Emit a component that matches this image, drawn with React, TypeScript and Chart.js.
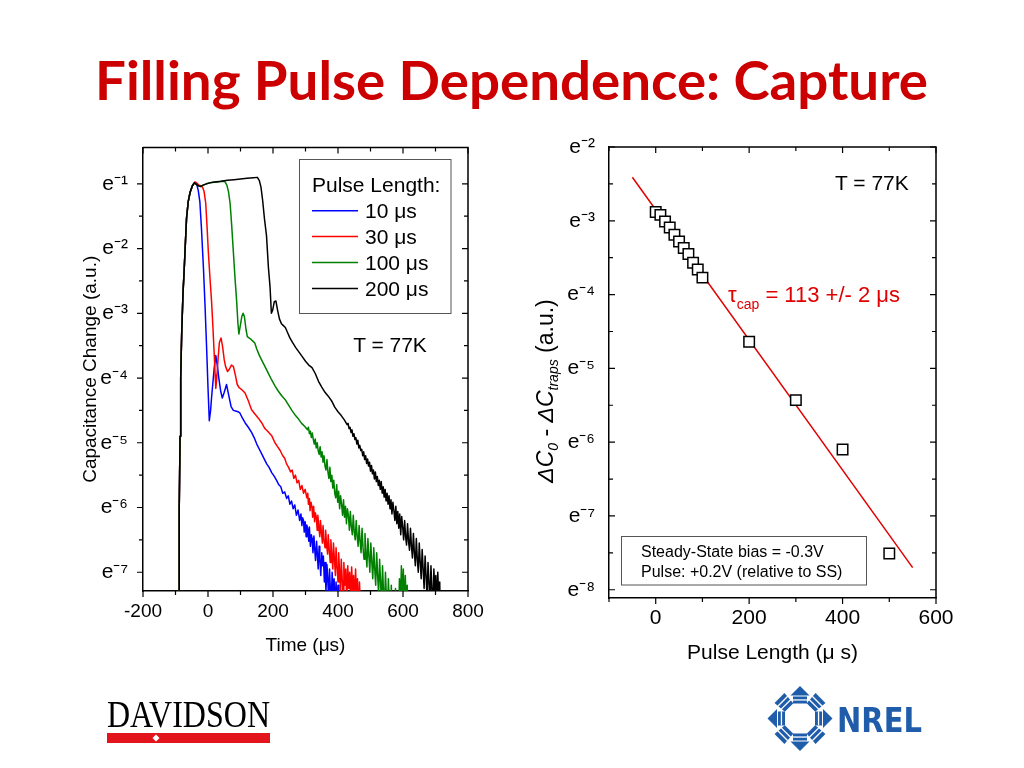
import React, { useEffect, useRef } from 'react';
import { Chart, registerables } from 'chart.js';

Chart.register(...registerables);

const SANS = '"Liberation Sans", Arial, Helvetica, sans-serif';

// ---------- left panel: capacitance transients, rows are [time (us), ln(dC)] ----------
const riseShared = [
  [-89, -9], [-89, -8], [-88, -6], [-86, -4.9], [-84, -4.0], [-81, -3.32], [-77, -2.7],
  [-73, -2.3], [-69, -1.85], [-66, -1.53], [-61, -1.28], [-55, -1.13], [-48, -1.03], [-42, -0.985],
];

const trace10 = [
  [-38, -0.99], [-35, -1.0], [-30, -1.1], [-25, -1.28], [-20, -1.7], [-14, -2.3], [-9, -2.9],
  [-4, -3.57], [0, -4.15], [4, -4.66], [8, -4.5], [11, -4.3], [14, -4.13], [19, -3.85], [24, -3.65],
  [29, -3.82], [34, -4.03], [39, -4.2], [44, -4.31], [50, -4.22], [57, -4.1], [63, -4.25], [71, -4.44],
  [78, -4.5], [85, -4.51], [92, -4.52], [98, -4.54], [106, -4.62], [114, -4.69], [124, -4.76],
  [134, -4.84], [142, -4.92], [150, -5.02], [158, -5.1], [166, -5.18], [174, -5.26], [181, -5.33],
  [188, -5.38], [196, -5.46], [204, -5.52], [211, -5.58], [218, -5.65], [224, -5.68], [230, -5.78],
  [236, -5.76], [242, -5.86], [247, -5.82], [252, -5.95], [257, -5.9], [262, -6.02], [267, -5.96],
  [272, -6.12], [277, -6.04], [282, -6.2], [286, -6.1], [289, -6.28], [291, -6.16], [294, -6.2],
  [296, -6.38], [299, -6.22], [302, -6.45], [304, -6.27], [307, -6.33], [310, -6.52], [312, -6.3],
  [315, -6.6], [318, -6.42], [320, -6.48], [323, -6.7], [326, -6.44], [328, -6.62], [331, -6.82],
  [334, -6.52], [336, -6.68], [339, -6.95], [342, -6.6], [344, -6.78], [347, -7.05], [350, -6.7],
  [352, -6.9], [355, -6.75], [358, -7.15], [360, -6.85], [363, -7.3], [366, -6.88], [368, -7.05],
  [371, -7.4], [374, -6.95], [376, -7.2], [379, -7.5], [382, -7.0], [385, -7.35], [388, -7.1],
  [391, -7.6], [394, -7.15], [397, -7.45], [400, -7.2], [403, -8],
];

const trace30 = [
  [-40, -0.97], [-34, -0.99], [-28, -1.02], [-22, -1.03], [-17, -1.05], [-12, -1.12], [-7, -1.3],
  [-3, -1.65], [1, -2.05], [6, -2.45], [11, -2.82], [15, -3.2], [19, -3.62], [22, -3.95], [24, -4.16],
  [27, -4.0], [31, -3.7], [35, -3.45], [40, -3.38], [45, -3.52], [50, -3.72], [54, -3.82], [60, -3.9],
  [66, -3.86], [72, -3.8], [78, -3.82], [84, -3.95], [90, -4.1], [96, -4.15], [104, -4.18],
  [114, -4.23], [124, -4.35], [134, -4.49], [145, -4.56], [155, -4.62], [165, -4.69], [175, -4.78],
  [185, -4.83], [196, -4.89], [206, -5.0], [214, -5.06], [222, -5.12], [230, -5.2], [236, -5.24],
  [242, -5.33], [248, -5.38], [254, -5.45], [259, -5.42], [264, -5.55], [269, -5.5], [274, -5.62],
  [279, -5.58], [284, -5.72], [289, -5.66], [294, -5.78], [299, -5.72], [304, -5.85], [307, -5.78],
  [309, -5.95], [312, -5.86], [314, -6.05], [317, -5.92], [320, -6.0], [322, -6.15], [325, -5.98],
  [328, -6.22], [330, -6.08], [333, -6.14], [336, -6.35], [338, -6.12], [341, -6.3], [344, -6.45],
  [346, -6.2], [349, -6.38], [352, -6.55], [354, -6.28], [357, -6.5], [360, -6.62], [362, -6.35],
  [365, -6.58], [368, -6.72], [370, -6.42], [373, -6.65], [376, -6.85], [378, -6.5], [381, -6.75],
  [384, -6.95], [386, -6.55], [389, -6.8], [392, -7.05], [394, -6.62], [397, -6.9], [400, -7.15],
  [402, -6.7], [405, -7.0], [408, -7.3], [410, -6.8], [413, -7.1], [416, -7.4], [418, -6.85],
  [421, -7.2], [424, -6.95], [427, -7.45], [430, -6.9], [433, -7.25], [436, -7.0], [439, -7.5],
  [442, -6.92], [445, -7.3], [448, -7.05], [451, -7.55], [454, -6.95], [457, -7.35], [460, -7.1],
  [463, -7.7], [466, -7.15], [469, -7.5], [472, -8],
];

const trace100 = [
  [-38, -1.0], [-30, -1.03], [-22, -1.04], [-15, -1.02], [-5, -1.0], [10, -0.98], [30, -0.97],
  [45, -0.96], [52, -0.965], [58, -1.02], [63, -1.12], [68, -1.3], [73, -1.65], [78, -2.05],
  [83, -2.45], [88, -2.8], [92, -3.15], [95, -3.32], [99, -3.2], [104, -3.05], [108, -3.0],
  [112, -3.05], [117, -3.25], [121, -3.36], [126, -3.38], [132, -3.4], [138, -3.43], [144, -3.46],
  [150, -3.55], [158, -3.65], [166, -3.73], [175, -3.82], [185, -3.92], [196, -4.03], [206, -4.12],
  [216, -4.2], [226, -4.27], [237, -4.33], [248, -4.42], [258, -4.5], [268, -4.57], [278, -4.63],
  [288, -4.7], [298, -4.75], [306, -4.8], [309, -4.76], [312, -4.86], [315, -4.82], [318, -4.92],
  [321, -4.85], [324, -4.95], [327, -5.02], [330, -4.94], [333, -5.08], [336, -5.0], [339, -5.12],
  [342, -5.18], [345, -5.06], [348, -5.22], [351, -5.14], [354, -5.3], [357, -5.2], [360, -5.36],
  [363, -5.42], [366, -5.26], [369, -5.45], [372, -5.55], [375, -5.38], [378, -5.6], [381, -5.5],
  [384, -5.7], [387, -5.58], [390, -5.78], [393, -5.85], [396, -5.65], [399, -5.92], [402, -5.75],
  [405, -6.02], [408, -5.82], [411, -5.95], [414, -6.12], [417, -5.88], [420, -6.15], [423, -5.98],
  [426, -6.25], [429, -6.02], [432, -6.12], [435, -6.35], [438, -6.06], [441, -6.3], [444, -6.42],
  [447, -6.12], [450, -6.38], [453, -6.5], [456, -6.2], [459, -6.45], [462, -6.6], [465, -6.28],
  [468, -6.52], [471, -6.7], [474, -6.32], [477, -6.62], [480, -6.8], [483, -6.4], [486, -6.7],
  [489, -6.92], [492, -6.48], [495, -6.75], [498, -7.0], [501, -6.55], [504, -6.85], [507, -7.1],
  [510, -6.62], [513, -6.95], [516, -7.2], [519, -6.7], [522, -7.05], [525, -7.35], [528, -6.8],
  [531, -7.15], [534, -7.5], [537, -6.9], [540, -7.3], [543, -7.6], [546, -7.0], [549, -7.4],
  [552, -7.75], [555, -7.1], [558, -7.5], [561, -7.9], [564, -7.2], [567, -7.6], [570, -7.3],
  [574, -7.85], [577, -7.25], [580, -7.6], [583, -7.35], [586, -7.8], [589, -7.1], [592, -7.5],
  [595, -6.9], [598, -7.4], [601, -6.95], [604, -7.6], [607, -7.05], [610, -7.45], [613, -7.2],
  [616, -7.8], [619, -7.3], [622, -8],
];

const trace200 = [
  [-38, -1.0], [-30, -1.03], [-22, -1.04], [-15, -1.02], [-5, -1.0], [5, -0.985], [20, -0.97],
  [40, -0.96], [60, -0.945], [80, -0.935], [100, -0.925], [120, -0.915], [140, -0.905], [152, -0.9],
  [158, -0.95], [163, -1.05], [168, -1.25], [174, -1.55], [180, -1.8], [186, -2.3], [191, -2.6],
  [195, -3.0], [199, -2.95], [204, -2.82], [209, -2.81], [214, -2.95], [220, -3.09], [226, -3.16],
  [232, -3.19], [238, -3.22], [245, -3.3], [252, -3.38], [260, -3.45], [270, -3.53], [280, -3.6],
  [290, -3.67], [300, -3.74], [310, -3.8], [320, -3.84], [330, -3.93], [340, -4.05], [350, -4.14],
  [360, -4.22], [370, -4.28], [380, -4.35], [390, -4.45], [400, -4.52], [410, -4.58], [420, -4.65],
  [428, -4.72], [431, -4.7], [434, -4.78], [437, -4.76], [440, -4.84], [443, -4.8], [446, -4.9],
  [449, -4.86], [452, -4.95], [455, -4.92], [458, -5.02], [461, -4.96], [464, -5.08], [467, -5.04],
  [470, -5.12], [473, -5.1], [476, -5.2], [479, -5.14], [482, -5.26], [485, -5.2], [488, -5.32],
  [491, -5.25], [494, -5.36], [497, -5.3], [500, -5.44], [503, -5.35], [506, -5.48], [509, -5.42],
  [512, -5.56], [515, -5.45], [518, -5.6], [521, -5.52], [524, -5.66], [527, -5.58], [530, -5.72],
  [533, -5.6], [536, -5.78], [539, -5.68], [542, -5.84], [545, -5.72], [548, -5.9], [551, -5.78],
  [554, -5.95], [557, -5.82], [560, -6.02], [563, -5.88], [566, -6.1], [569, -5.92], [572, -6.05],
  [575, -6.2], [578, -5.98], [581, -6.25], [584, -6.06], [587, -6.32], [590, -6.1], [593, -6.42],
  [596, -6.14], [599, -6.3], [602, -6.5], [605, -6.2], [608, -6.45], [611, -6.58], [614, -6.25],
  [617, -6.52], [620, -6.66], [623, -6.32], [626, -6.6], [629, -6.78], [632, -6.4], [635, -6.7],
  [638, -6.9], [641, -6.48], [644, -6.8], [647, -7.0], [650, -6.55], [653, -6.85], [656, -7.1],
  [659, -6.65], [662, -6.95], [665, -7.25], [668, -6.75], [671, -7.05], [674, -7.4], [677, -6.85],
  [680, -7.15], [683, -7.5], [686, -6.9], [689, -7.25], [692, -7.6], [695, -6.95], [698, -7.3],
  [701, -7.05], [704, -7.55], [707, -7.0], [710, -7.4], [713, -7.15], [716, -8],
];

const traceLabels = ['10 μs', '30 μs', '100 μs', '200 μs'];
const traceColors = ['#0000ff', '#ff0000', '#008000', '#000000'];
const traceOrder = [3, 2, 1, 0]; // black drawn on top

const timeMajor = [-200, 0, 200, 400, 600, 800];
const timeMinor = [-100, 100, 300, 500, 700];
const leftLnRange = [-7.29, -0.44];
const leftExpMajor = [-1, -2, -3, -4, -5, -6, -7];
const leftExpMinor = [-1.5, -2.5, -3.5, -4.5, -5.5, -6.5];

// ---------- right panel: capture vs pulse length ----------
const pulseLengths = [0, 10, 20, 30, 40, 50, 60, 70, 80, 90, 100, 200, 300, 400, 500];
const capLn = [-2.88, -2.92, -3.01, -3.09, -3.19, -3.28, -3.37, -3.45, -3.57, -3.66, -3.77, -4.64, -5.43, -6.1, -7.51];
const fitX = [-50, 550];
const fitLn = [-2.41, -7.7];
const pulseMajor = [0, 200, 400, 600];
const pulseMinor = [-100, 100, 300, 500];
const rightLnRange = [-8, -2];
const rightExpMajor = [-2, -3, -4, -5, -6, -7, -8];
const rightExpMinor = [-2.5, -3.5, -4.5, -5.5, -6.5, -7.5];

const SUP: Record<string, string> = {
  '-': '⁻', '0': '⁰', '1': '¹', '2': '²', '3': '³', '4': '⁴', '5': '⁵', '6': '⁶', '7': '⁷', '8': '⁸', '9': '⁹',
};
const expLabel = (n: number) => 'e' + String(n).split('').map((c) => SUP[c] ?? c).join('');

const toPoints = (rows: number[][]) => rows.map(([x, ln]) => ({ x, y: Math.exp(ln) }));

const tickSetter = (major: number[], minor: number[], log: boolean) => (scale: any) => {
  const v = (n: number) => (log ? Math.exp(n) : n);
  scale.ticks = [
    ...major.map((n) => ({ value: v(n), major: true })),
    ...minor.map((n) => ({ value: v(n), major: false })),
  ].sort((a, b) => a.value - b.value);
};

// frame on top/right + inward/outward tick marks
const frameTicks = {
  id: 'frameTicks',
  afterDraw(chart: any, _args: any, opts: any) {
    const { ctx, chartArea: a, scales } = chart;
    ctx.save();
    ctx.strokeStyle = '#000';
    ctx.lineWidth = 1.5;
    ctx.beginPath();
    ctx.moveTo(a.left, a.top);
    ctx.lineTo(a.right, a.top);
    ctx.lineTo(a.right, a.bottom);
    ctx.stroke();
    ctx.lineWidth = 1.2;
    ctx.beginPath();
    for (const t of scales.x.ticks) {
      const px = scales.x.getPixelForValue(t.value);
      const len = t.major ? 6 : 4;
      ctx.moveTo(px, a.bottom);
      ctx.lineTo(px, a.bottom + len);
      ctx.moveTo(px, a.top);
      ctx.lineTo(px, a.top + len);
    }
    for (const t of scales.y.ticks) {
      const py = scales.y.getPixelForValue(t.value);
      const len = t.major ? 6 : 4;
      ctx.moveTo(a.left, py);
      ctx.lineTo(a.left + (opts.leftOut ? -len : len), py);
      ctx.moveTo(a.right, py);
      ctx.lineTo(a.right - len, py);
    }
    ctx.stroke();
    ctx.restore();
  },
};

const baseScales = (o: any) => ({
  x: {
    type: 'linear',
    min: o.xMin,
    max: o.xMax,
    afterBuildTicks: tickSetter(o.xMajor, o.xMinor, false),
    afterFit: (s: any) => { s.height = o.xHeight; },
    grid: { display: false, drawTicks: false },
    border: { display: true, color: '#000', width: 1.5 },
    ticks: {
      autoSkip: false, maxRotation: 0, minRotation: 0, padding: o.xPad, color: '#000',
      font: { family: SANS, size: o.xFont },
      callback: (v: number, i: number, ticks: any[]) => (ticks[i].major ? String(v) : ''),
    },
    title: {
      display: true, text: o.xTitle, color: '#000',
      font: { family: SANS, size: o.xFont }, padding: { top: 0, bottom: o.xTitlePad },
    },
  },
  y: {
    type: 'logarithmic',
    min: Math.exp(o.lnRange[0]),
    max: Math.exp(o.lnRange[1]),
    afterBuildTicks: tickSetter(o.yMajor, o.yMinor, true),
    afterFit: (s: any) => { s.width = o.yWidth; },
    grid: { display: false, drawTicks: false },
    border: { display: true, color: '#000', width: 1.5 },
    ticks: {
      autoSkip: false, padding: o.yPad, color: '#000',
      font: { family: SANS, size: 21 },
      callback: (v: number, i: number, ticks: any[]) =>
        ticks[i].major ? expLabel(Math.round(Math.log(v))) : '',
    },
    title: o.yTitle
      ? {
          display: true, text: o.yTitle, color: '#000',
          font: { family: SANS, size: 19 }, padding: { top: o.yTitlePad, bottom: 0 },
        }
      : { display: false },
  },
});

const App: React.FC = () => {
  const leftRef = useRef<HTMLCanvasElement>(null);
  const rightRef = useRef<HTMLCanvasElement>(null);

  useEffect(() => {
    if (!leftRef.current || !rightRef.current) return;
    const traces = [trace10, trace30, trace100, trace200];

    const left = new Chart(leftRef.current, {
      type: 'line',
      data: {
        datasets: traces.map((rows, i) => ({
          label: traceLabels[i],
          data: toPoints([...riseShared, ...rows]),
          borderColor: traceColors[i],
          borderWidth: 1.5,
          borderJoinStyle: 'round',
          pointRadius: 0,
          order: traceOrder[i],
        })),
      } as any,
      options: {
        animation: false,
        responsive: true,
        maintainAspectRatio: false,
        events: [],
        layout: { padding: { top: 23, right: 32, left: 0, bottom: 0 } },
        scales: baseScales({
          xMin: -200, xMax: 800, xMajor: timeMajor, xMinor: timeMinor, xHeight: 89, xPad: 9,
          xFont: 19, xTitle: 'Time (μs)', xTitlePad: 22.6,
          lnRange: leftLnRange, yMajor: leftExpMajor, yMinor: leftExpMinor, yWidth: 83, yPad: 15,
          yTitle: 'Capacitance Change (a.u.)', yTitlePad: 19.4,
        }) as any,
        plugins: { legend: { display: false }, tooltip: { enabled: false }, frameTicks: { leftOut: true } } as any,
      },
      plugins: [frameTicks],
    });

    const right = new Chart(rightRef.current, {
      type: 'line',
      data: {
        datasets: [
          {
            label: 'data',
            data: pulseLengths.map((x, i) => ({ x, y: Math.exp(capLn[i]) })),
            showLine: false,
            pointStyle: 'rect',
            pointRadius: 7.4,
            pointBorderWidth: 1.5,
            pointBorderColor: '#000',
            pointBackgroundColor: '#fff',
            order: 0,
          },
          {
            label: 'fit',
            data: fitX.map((x, i) => ({ x, y: Math.exp(fitLn[i]) })),
            borderColor: '#e00000',
            borderWidth: 1.5,
            pointRadius: 0,
            order: 1,
          },
        ],
      } as any,
      options: {
        animation: false,
        responsive: true,
        maintainAspectRatio: false,
        events: [],
        layout: { padding: { top: 27, right: 30, left: 0, bottom: 0 } },
        scales: baseScales({
          xMin: -100, xMax: 600, xMajor: pulseMajor, xMinor: pulseMinor, xHeight: 82, xPad: 7.4,
          xFont: 21, xTitle: 'Pulse Length (μ s)', xTitlePad: 14.4,
          lnRange: rightLnRange, yMajor: rightExpMajor, yMinor: rightExpMinor, yWidth: 89, yPad: 14,
          yTitle: null,
        }) as any,
        plugins: { legend: { display: false }, tooltip: { enabled: false }, frameTicks: { leftOut: false } } as any,
      },
      plugins: [frameTicks],
    });

    return () => {
      left.destroy();
      right.destroy();
    };
  }, []);

  const blue = '#1f5caa';

  return (
    <div style={{ position: 'absolute', left: 0, top: 0, width: 1024, height: 768, background: '#fff', overflow: 'hidden' }}>
      <div style={{ position: 'absolute', left: 60, top: 120, width: 440, height: 560 }}>
        <canvas ref={leftRef}></canvas>
      </div>
      <div style={{ position: 'absolute', left: 520, top: 120, width: 446, height: 560 }}>
        <canvas ref={rightRef}></canvas>
      </div>
      <svg width={1024} height={768} style={{ position: 'absolute', left: 0, top: 0, pointerEvents: 'none', whiteSpace: 'pre' }}>
        {/* slide title */}
        <text x={95} y={100} fill="#cc0000" fontFamily='"Comic Sans MS", Lato, sans-serif' fontWeight="bold"
          fontSize={53} textLength={833} lengthAdjust="spacingAndGlyphs">
          Filling Pulse Dependence: Capture
        </text>

        {/* left panel legend */}
        <rect x={299.5} y={159.5} width={151.5} height={154} fill="none" stroke="#555" strokeWidth={1} />
        <text x={312} y={191.5} fontFamily={SANS} fontSize={21} fill="#000">Pulse Length:</text>
        {traceLabels.map((lab, i) => (
          <g key={lab}>
            <line x1={312} x2={358} y1={210.7 + i * 25.9} y2={210.7 + i * 25.9} stroke={traceColors[i]} strokeWidth={1.5} />
            <text x={365} y={218.3 + i * 25.9} fontFamily={SANS} fontSize={21} fill="#000">{lab}</text>
          </g>
        ))}
        <text x={390} y={352} textAnchor="middle" fontFamily={SANS} fontSize={21} fill="#000">T = 77K</text>

        {/* right panel annotations */}
        <text x={835} y={190} fontFamily={SANS} fontSize={21} fill="#000">T = 77K</text>
        <text x={728} y={302} fontFamily={SANS} fontSize={22} fill="#e00000">
          <tspan>τ</tspan>
          <tspan fontSize={14} dy={7}>cap</tspan>
          <tspan dy={-7}> = 113 +/- 2 μs</tspan>
        </text>
        <rect x={621.5} y={536.5} width={245} height={48.5} fill="none" stroke="#555" strokeWidth={1} />
        <text x={641} y={556.7} fontFamily={SANS} fontSize={16} fill="#000">Steady-State bias = -0.3V</text>
        <text x={641} y={577} fontFamily={SANS} fontSize={16} fill="#000">Pulse: +0.2V (relative to SS)</text>
        <text transform="translate(553 391) rotate(-90)" textAnchor="middle" fontFamily={SANS} fontSize={23} fill="#000">
          <tspan fontStyle="italic">ΔC</tspan>
          <tspan fontStyle="italic" fontSize={14} dy={5}>0</tspan>
          <tspan dy={-5}> - </tspan>
          <tspan fontStyle="italic">ΔC</tspan>
          <tspan fontStyle="italic" fontSize={14} dy={5}>traps</tspan>
          <tspan dy={-5}>  (a.u.)</tspan>
        </text>

        {/* Davidson logo */}
        <text x={107} y={727} fontFamily='"Liberation Serif", "Times New Roman", serif' fontSize={38} fill="#000"
          textLength={163} lengthAdjust="spacingAndGlyphs">DAVIDSON</text>
        <rect x={107} y={733} width={163} height={10} fill="#e2141c" />
        <polygon points="156,734.5 159.5,738 156,741.5 152.5,738" fill="#fff" />

        {/* NREL logo */}
        <g transform="translate(800 718.5)" fill={blue}>
          {[0, 90, 180, 270].map((a) => (
            <g key={a} transform={`rotate(${a})`}>
              <polygon points="0,-32.5 -9.5,-23 9.5,-23" />
              <rect x={-7} y={-22} width={14} height={7} />
              <rect x={-7} y={-19.2} width={14} height={1.3} fill="#fff" />
            </g>
          ))}
          {[45, 135, 225, 315].map((a) => (
            <g key={a} transform={`rotate(${a})`}>
              <polygon points="-7,-29 7,-29 6,-15.5 -6,-15.5" />
              <rect x={-7} y={-25} width={14} height={1.3} fill="#fff" />
              <rect x={-7} y={-20.5} width={14} height={1.3} fill="#fff" />
            </g>
          ))}
        </g>
        <text x={837} y={731.7} fontFamily='"DejaVu Sans", sans-serif' fontWeight="bold" fontSize={34} fill={blue}
          textLength={85} lengthAdjust="spacingAndGlyphs">NREL</text>
      </svg>
    </div>
  );
};

export default App;
